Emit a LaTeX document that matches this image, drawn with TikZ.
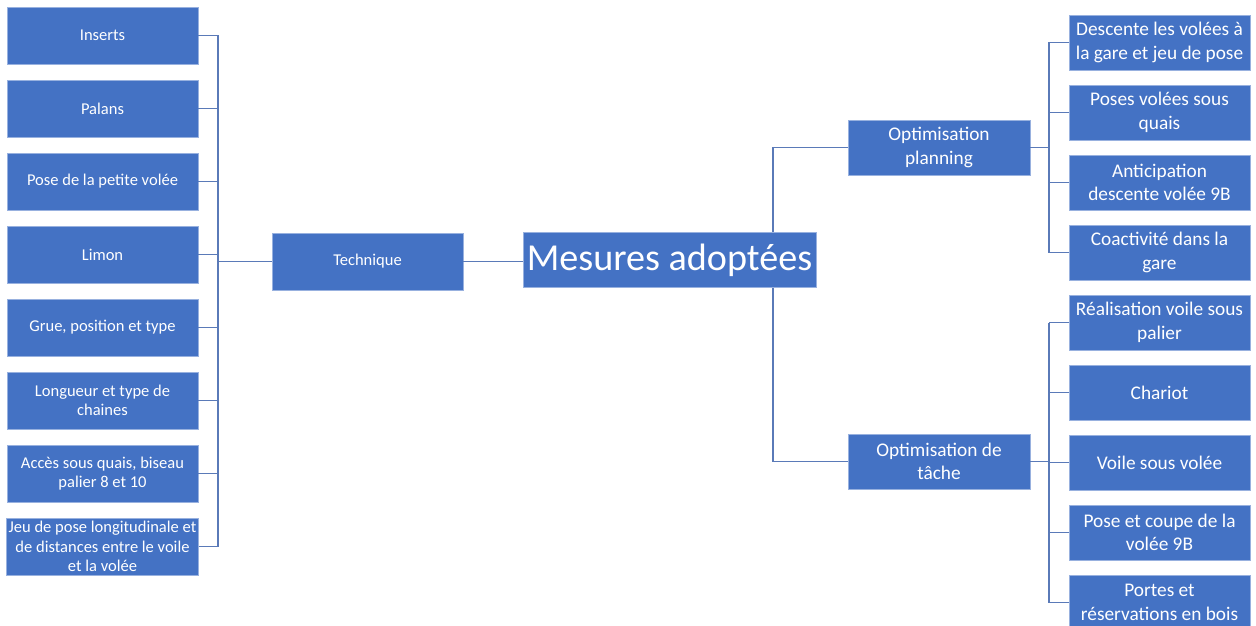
\documentclass[tikz,border=0pt]{standalone}
\usepackage{fontspec}
\setmainfont{Carlito}
\usepackage{tikz}
\usetikzlibrary{positioning,calc}
\definecolor{boxblue}{HTML}{4472C4}
\definecolor{linkblue}{HTML}{5A7AB8}
\tikzset{
  box/.style={draw=white!45!boxblue, line width=0.5pt, fill=boxblue, text=white, align=center, inner sep=1pt},
  leaf/.style={box, minimum width=3.82cm, minimum height=1.14cm, font=\fontsize{9.4}{11}\selectfont},
  mid/.style={box, minimum width=3.64cm, minimum height=1.1cm, font=\fontsize{11}{13.4}\selectfont},
  rleaf/.style={box, minimum width=3.62cm, minimum height=1.1cm, font=\fontsize{11}{13.4}\selectfont},
  link/.style={draw=linkblue, line width=0.6pt}
}

\begin{document}
\begin{tikzpicture}[x=0.02cm, y=-0.02cm]
\useasboundingbox (0,0) rectangle (1256,625);
% bus lines
\coordinate (lbus) at (218,0);
\coordinate (mbus) at (773,0);
\coordinate (rbus) at (1049,0);

% centre and middle level
\node[box, minimum width=5.86cm, minimum height=1.1cm, font=\fontsize{21.7}{26}\selectfont] (root) at (669.5,260) {Mesures adoptées};
\node[leaf] (tech) at (367.5,261.5) {Technique};
\node[mid] (plan) at (939,147.5) {Optimisation\\planning};
\node[mid] (task) at (939,461.5) {Optimisation de\\tâche};

% left leaves
\foreach \t [count=\i] in {Inserts, Palans, Pose de la petite volée, Limon, {Grue, position et type},
    Longueur et type de\\chaines, {Accès sous quais, biseau\\palier 8 et 10},
    Jeu de pose longitudinale et\\de distances entre le voile\\et la volée}
  \node[leaf] (t\i) at (102.5,{35.5+73*(\i-1)}) {\t};

% right leaves
\foreach \t [count=\i] in {Descente les volées à\\la gare et jeu de pose, Poses volées sous\\quais,
    Anticipation\\descente volée 9B, Coactivité dans la\\gare}
  \node[rleaf] (p\i) at (1159.5,{42.5+70*(\i-1)}) {\t};
\foreach \t [count=\i] in {Réalisation voile sous\\palier, Chariot, Voile sous volée,
    Pose et coupe de la\\volée 9B, Portes et\\réservations en bois}
  \node[rleaf] (q\i) at (1159.5,{322.5+70*(\i-1)}) {\t};

% connectors
\foreach \i in {1,...,8}
  \draw[link] (t\i.east) -- (t\i.east -| lbus);
\draw[link] (t1.east -| lbus) -- (t8.east -| lbus);
\draw[link] (tech.west) -- (tech.west -| lbus);
\draw[link] (tech.east) -- (tech.east -| root.west);
\draw[link] (root.north -| mbus) |- (plan.west);
\draw[link] (root.south -| mbus) |- (task.west);
\draw[link] (plan.east) -- (plan.east -| rbus);
\draw[link] (p1.west -| rbus) -- (p4.west -| rbus);
\foreach \i in {1,...,4}
  \draw[link] (p\i.west -| rbus) -- (p\i.west);
\draw[link] (task.east) -- (task.east -| rbus);
\draw[link] (q1.west -| rbus) -- (q5.west -| rbus);
\foreach \i in {1,...,5}
  \draw[link] (q\i.west -| rbus) -- (q\i.west);
\end{tikzpicture}
\end{document}
